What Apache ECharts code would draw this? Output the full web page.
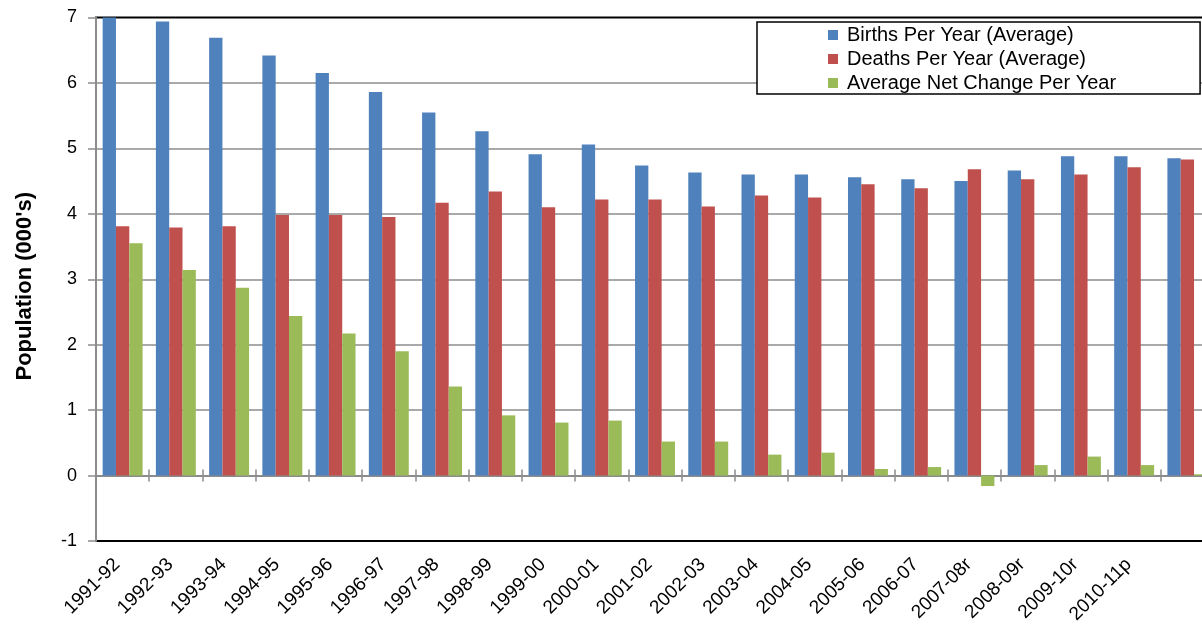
<!DOCTYPE html>
<html>
<head>
<meta charset="utf-8">
<script src="https://cdn.jsdelivr.net/npm/echarts@6/dist/echarts.min.js"></script>
<style>
  html, body { margin: 0; padding: 0; background: #fff; overflow: hidden; }
  #chart { width: 1202px; height: 624px; }
</style>
</head>
<body>
<div id="chart"></div>
<script>
// Period labels (the final period is drawn without a label)
const categories = [
  '1991-92', '1992-93', '1993-94', '1994-95', '1995-96', '1996-97', '1997-98',
  '1998-99', '1999-00', '2000-01', '2001-02', '2002-03', '2003-04', '2004-05',
  '2005-06', '2006-07', '2007-08r', '2008-09r', '2009-10r', '2010-11p', ''
];

// Values in thousands
const births = [7.00, 6.94, 6.69, 6.42, 6.15, 5.86, 5.55, 5.26, 4.91, 5.06, 4.74,
                4.63, 4.60, 4.60, 4.56, 4.53, 4.50, 4.66, 4.88, 4.88, 4.85];
const deaths = [3.81, 3.79, 3.81, 3.98, 3.98, 3.95, 4.17, 4.34, 4.10, 4.22, 4.22,
                4.11, 4.28, 4.25, 4.45, 4.39, 4.68, 4.53, 4.60, 4.71, 4.83];
const netChange = [3.55, 3.14, 2.87, 2.44, 2.17, 1.90, 1.36, 0.92, 0.81, 0.84, 0.52,
                   0.52, 0.32, 0.35, 0.10, 0.13, -0.16, 0.16, 0.29, 0.16, 0.02];

const seriesNames = ['Births Per Year (Average)', 'Deaths Per Year (Average)', 'Average Net Change Per Year'];
const seriesColors = ['#4F81BD', '#C0504D', '#9BBB59'];

const FONT = '"Liberation Sans", Arial, sans-serif';
const GRID_GRAY = '#8C8C8C';

const chart = echarts.init(document.getElementById('chart'), null, { renderer: 'canvas' });

// Category axes sitting on the zero line: one draws the line with downward ticks,
// the other adds upward ticks so each tick crosses the line.
const tickAxis = (inside) => ({
  type: 'category',
  data: categories,
  position: 'bottom',
  axisLine: { show: !inside, onZero: true, onZeroAxisIndex: 0, lineStyle: { color: GRID_GRAY, width: 2 } },
  axisTick: { show: true, inside: inside, interval: 0, length: 6, lineStyle: { color: GRID_GRAY, width: 1.5 } },
  axisLabel: { show: false },
  splitLine: { show: false }
});

chart.setOption({
  animation: false,
  backgroundColor: '#fff',
  textStyle: { fontFamily: FONT },
  // The plot area runs past the right edge of the page
  grid: {
    left: 96, top: 17.5, width: 1118, bottom: 83,
    outerBoundsMode: 'none',
    show: true, borderColor: '#000', borderWidth: 2, backgroundColor: '#fff'
  },
  legend: {
    orient: 'vertical',
    left: 757, top: 22,
    padding: [3, 84, 1, 71],
    itemWidth: 10, itemHeight: 10, itemGap: 4,
    icon: 'rect',
    borderColor: '#000', borderWidth: 1.5,
    backgroundColor: '#fff',
    textStyle: { fontSize: 20, color: '#000', fontFamily: FONT, lineHeight: 20, padding: [0, 0, 0, 4] },
    data: seriesNames
  },
  xAxis: [
    {
      type: 'category',
      data: categories,
      position: 'bottom',
      axisLine: { show: false, onZero: false },
      axisTick: { show: false },
      axisLabel: {
        rotate: 45, margin: 15, fontSize: 19, color: '#000', fontFamily: FONT,
        interval: 0, padding: [0, 8, 0, 0]
      },
      splitLine: { show: false }
    },
    tickAxis(false),
    tickAxis(true)
  ],
  yAxis: {
    type: 'value',
    min: -1, max: 7, interval: 1,
    name: "Population (000's)",
    nameLocation: 'middle',
    nameGap: 60,
    nameTextStyle: {
      fontSize: 22, fontWeight: 'bold', color: '#000', fontFamily: FONT,
      padding: [0, 14, 0, 0]
    },
    axisLine: { show: true, lineStyle: { color: GRID_GRAY, width: 2 } },
    axisTick: { show: true, length: 8, lineStyle: { color: GRID_GRAY, width: 1.5 } },
    axisLabel: { fontSize: 18, color: '#000', margin: 19, fontFamily: FONT },
    splitLine: {
      show: true, showMinLine: false, showMaxLine: false,
      lineStyle: { color: GRID_GRAY, width: 1.5 }
    }
  },
  series: [births, deaths, netChange].map((values, i) => ({
    name: seriesNames[i],
    type: 'bar',
    data: values,
    xAxisIndex: 0,
    barGap: '0%',
    barCategoryGap: '25%',
    itemStyle: { color: seriesColors[i] }
  }))
});
</script>
</body>
</html>
